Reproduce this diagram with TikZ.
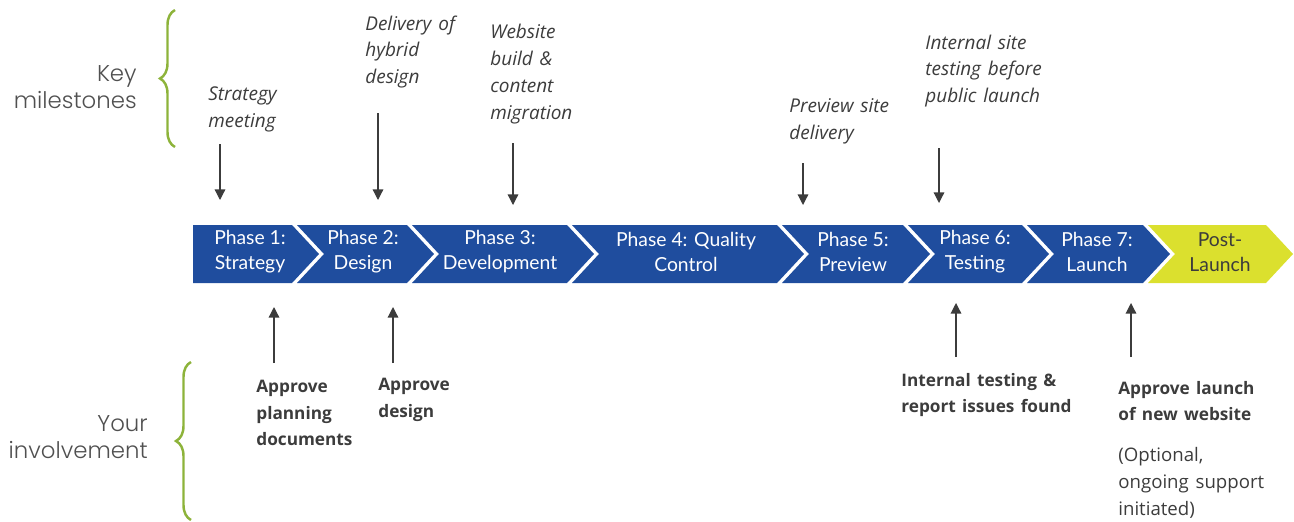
\documentclass[tikz,border=0pt]{standalone}
\usepackage{fontspec}
\setmainfont{Lato}
\newfontfamily\headfont{Poppins Light}
\newfontfamily\notefont{Open Sans}[WordSpace=1.4]
\usetikzlibrary{arrows.meta,decorations.pathreplacing}
\definecolor{phaseblue}{RGB}{31,77,158}
\definecolor{postyellow}{RGB}{219,224,46}
\definecolor{bracegreen}{RGB}{141,179,58}
\definecolor{textgrey}{RGB}{60,60,60}

\begin{document}
\begin{tikzpicture}[x=0.02cm, y=-0.02cm,
    phase/.style={text=white, align=center, font=\fontsize{11}{14.2}\selectfont},
    milestone/.style={anchor=west, inner sep=0pt, align=left, text=textgrey, font=\fontsize{10.8}{15.3}\selectfont\notefont\itshape},
    involve/.style={anchor=west, inner sep=0pt, align=left, text=textgrey, font=\fontsize{9.8}{15}\selectfont\notefont\bfseries},
    heading/.style={anchor=east, inner sep=0pt, align=right, text=textgrey!90, font=\fontsize{13}{15.3}\selectfont\headfont},
    pointer/.style={-{Triangle[width=6pt,length=6pt]}, line width=0.7pt, draw=textgrey},
    curly/.style={decorate, decoration={brace, amplitude=0.3cm}, draw=bracegreen, line width=1.4pt}]

    \useasboundingbox (0,0) rectangle (1294,521);

    % chevrons
    \fill[phaseblue] (193,225) -- (292,225) -- (319,254) -- (292,283) -- (193,283) -- cycle;
    \fill[phaseblue] (297,225) -- (407,225) -- (434,254) -- (407,283) -- (297,283) -- (324,254) -- cycle;
    \fill[phaseblue] (412,225) -- (567,225) -- (594,254) -- (567,283) -- (412,283) -- (439,254) -- cycle;
    \fill[phaseblue] (572,225) -- (777,225) -- (804,254) -- (777,283) -- (572,283) -- (599,254) -- cycle;
    \fill[phaseblue] (782,225) -- (903,225) -- (930,254) -- (903,283) -- (782,283) -- (809,254) -- cycle;
    \fill[phaseblue] (908,225) -- (1022,225) -- (1049,254) -- (1022,283) -- (908,283) -- (935,254) -- cycle;
    \fill[phaseblue] (1027,225) -- (1143,225) -- (1170,254) -- (1143,283) -- (1027,283) -- (1054,254) -- cycle;
    \fill[postyellow] (1148,225) -- (1266,225) -- (1293,254) -- (1266,283) -- (1148,283) -- (1175,254) -- cycle;

    \node[phase] (phase1) at (250,252) {Phase 1:\\Strategy};
    \node[phase] (phase2) at (363,252) {Phase 2:\\Design};
    \node[phase] (phase3) at (500,252) {Phase 3:\\Development};
    \node[phase] (phase4) at (686,252) {Phase 4: Quality\\Control};
    \node[phase] (phase5) at (853,252) {Phase 5:\\Preview};
    \node[phase] (phase6) at (975,252) {Phase 6:\\Testing};
    \node[phase] (phase7) at (1097,252) {Phase 7:\\Launch};
    \node[phase, text=textgrey] (post) at (1220,252) {Post-\\Launch};

    % left headings and braces
    \node[heading] (key) at (137,87) {Key\\milestones};
    \node[heading] (your) at (148,437) {Your\\involvement};
    \draw[curly] (175,147) -- (175,10);
    \draw[curly] (191,520) -- (191,362);

    % milestones
    \node[milestone] (ms1) at (208,109) {Strategy\\meeting};
    \node[milestone] (ms2) at (365,52) {Delivery of\\hybrid\\design};
    \node[milestone] (ms3) at (490,74) {Website\\build \&\\content\\migration};
    \node[milestone] (ms4) at (789,121) {Preview site\\delivery};
    \node[milestone] (ms5) at (925,71) {Internal site\\testing before\\public launch};

    \coordinate (ms1a) at (220,144);  \coordinate (ms1b) at (220,200);
    \coordinate (ms2a) at (378,113);  \coordinate (ms2b) at (378,200);
    \coordinate (ms3a) at (513,143);  \coordinate (ms3b) at (513,205);
    \coordinate (ms4a) at (803,163);  \coordinate (ms4b) at (803,205);
    \coordinate (ms5a) at (939,148);  \coordinate (ms5b) at (939,203);

    \draw [pointer] (ms1a) -- (ms1b);
    \draw [pointer] (ms2a) -- (ms2b);
    \draw [pointer] (ms3a) -- (ms3b);
    \draw [pointer] (ms4a) -- (ms4b);
    \draw [pointer] (ms5a) -- (ms5b);

    % involvement
    \node[involve] (inv1) at (256,413) {Approve\\planning\\documents};
    \node[involve] (inv2) at (378,400) {Approve\\design};
    \node[involve] (inv3) at (901,395) {Internal testing \&\\report issues found};
    \node[involve] (inv4) at (1118,401) {Approve launch\\of new website};
    \node[milestone, font=\fontsize{10.6}{15.3}\selectfont\notefont] (opt) at (1118,483) {(Optional,\\ongoing support\\initiated)};

    \coordinate (inv1a) at (274,363);  \coordinate (inv1b) at (274,307);
    \coordinate (inv2a) at (393,363);  \coordinate (inv2b) at (393,307);
    \coordinate (inv3a) at (956,357);  \coordinate (inv3b) at (956,303);
    \coordinate (inv4a) at (1131,357); \coordinate (inv4b) at (1131,303);

    \draw [pointer] (inv1a) -- (inv1b);
    \draw [pointer] (inv2a) -- (inv2b);
    \draw [pointer] (inv3a) -- (inv3b);
    \draw [pointer] (inv4a) -- (inv4b);

\end{tikzpicture}
\end{document}
